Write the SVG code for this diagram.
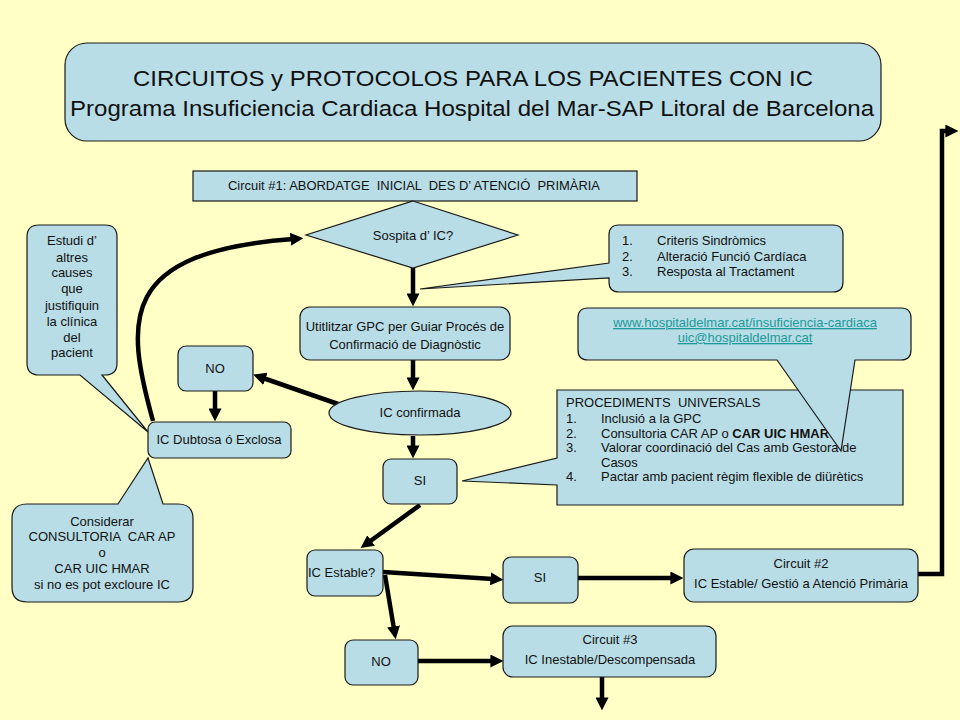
<svg xmlns="http://www.w3.org/2000/svg" width="960" height="720" viewBox="0 0 960 720">
<defs>
<style>
.bx{fill:#B8DDE6;stroke:#1a1a1a;stroke-width:1.2}
.t{font-family:"Liberation Sans",Arial,sans-serif;font-size:13px;fill:#111}
.c{text-anchor:middle}
.ar{fill:none;stroke:#000;stroke-width:4.5;marker-end:url(#ah)}
.lk{fill:#1B9A9A;text-decoration:underline}
</style>
<marker id="ah" viewBox="0 0 10 10" markerWidth="13" markerHeight="13" refX="2" refY="5" orient="auto" markerUnits="userSpaceOnUse">
<path d="M0,0 L10,5 L0,10 z" fill="#000"/>
</marker>
</defs>
<rect x="0" y="0" width="960" height="720" fill="#FFFFC6"/>

<g id="title">
<rect class="bx" x="65" y="43" width="816" height="98" rx="22"/>
<text class="t c" x="473" y="86" style="font-size:22px" textLength="680" lengthAdjust="spacingAndGlyphs">CIRCUITOS y PROTOCOLOS PARA LOS PACIENTES CON IC</text>
<text class="t c" x="472" y="116" style="font-size:22px" textLength="804" lengthAdjust="spacingAndGlyphs">Programa Insuficiencia Cardiaca Hospital del Mar-SAP Litoral de Barcelona</text>
</g>

<g id="circuit1">
<rect class="bx" x="193" y="171" width="444" height="30"/>
<text class="t c" x="414" y="190" xml:space="preserve" textLength="372" lengthAdjust="spacingAndGlyphs">Circuit #1: ABORDATGE  INICIAL  DES D’ ATENCIÓ  PRIMÀRIA</text>
</g>

<g id="connectors">
<line class="ar" x1="413" y1="268" x2="413" y2="296"/>
<line class="ar" x1="413" y1="360" x2="413" y2="380"/>
<line class="ar" x1="413" y1="436" x2="413" y2="448"/>
<line class="ar" x1="338" y1="404" x2="263" y2="378"/>
<line class="ar" x1="215" y1="391" x2="215" y2="411"/>
<path class="ar" d="M153,421 C125,320 118,252 293,239"/>
<line class="ar" x1="420" y1="505" x2="369" y2="542"/>
<line class="ar" x1="383" y1="572" x2="493" y2="579"/>
<line class="ar" x1="385" y1="575" x2="394" y2="629"/>
<line class="ar" x1="578" y1="578" x2="673" y2="578"/>
<line class="ar" x1="418" y1="661" x2="493" y2="661"/>
<line class="ar" x1="602" y1="677" x2="602" y2="700"/>
<polyline class="ar" points="918,574 942,574 942,131 948,131"/>
</g>

<g id="sospita">
<polygon class="bx" points="413,201 518,235 413,268 306,235"/>
<text class="t c" x="413" y="240">Sospita d’ IC?</text>
</g>

<g id="utilitzar">
<rect class="bx" x="300" y="307" width="210" height="53" rx="10"/>
<text class="t c" x="405" y="331">Utitlitzar GPC per Guiar Procés de</text>
<text class="t c" x="405" y="349">Confirmació de Diagnòstic</text>
</g>

<g id="confirmada">
<ellipse class="bx" cx="420" cy="413" rx="91" ry="22"/>
<text class="t c" x="420" y="417">IC confirmada</text>
</g>

<g id="si1">
<rect class="bx" x="383" y="459" width="74" height="45" rx="8"/>
<text class="t c" x="420" y="485">SI</text>
</g>

<g id="no1">
<rect class="bx" x="178" y="346" width="75" height="45" rx="8"/>
<text class="t c" x="215" y="373">NO</text>
</g>

<g id="estudi">
<path class="bx" d="M39,225 H105 Q117,225 117,237 V363 Q117,375 105,375 H102 L148,432 L80,375 H39 Q27,375 27,363 V237 Q27,225 39,225 Z"/>
<text class="t c" x="72" y="245">Estudi d’</text>
<text class="t c" x="72" y="262">altres</text>
<text class="t c" x="72" y="277">causes</text>
<text class="t c" x="72" y="293">que</text>
<text class="t c" x="72" y="310">justifiquin</text>
<text class="t c" x="72" y="326">la clínica</text>
<text class="t c" x="72" y="342">del</text>
<text class="t c" x="72" y="357">pacient</text>
</g>

<g id="considerar">
<path class="bx" d="M27,504 H118 L148,458 L163,504 H178 Q193,504 193,519 V587 Q193,602 178,602 H27 Q12,602 12,587 V519 Q12,504 27,504 Z"/>
<text class="t c" x="102" y="526">Considerar</text>
<text class="t c" x="102" y="541" xml:space="preserve">CONSULTORIA  CAR AP</text>
<text class="t c" x="102" y="557">o</text>
<text class="t c" x="102" y="573">CAR UIC HMAR</text>
<text class="t c" x="102" y="589">si no es pot excloure IC</text>
</g>

<g id="dubtosa">
<rect class="bx" x="148" y="422" width="143" height="36" rx="7"/>
<text class="t c" x="219" y="444">IC Dubtosa ó Exclosa</text>
</g>

<g id="criteris">
<path class="bx" d="M619,225 H833 Q843,225 843,235 V282 Q843,292 833,292 H619 Q609,292 609,282 V278 L420,289 L609,263 V235 Q609,225 619,225 Z"/>
<text class="t" x="622" y="245">1.</text><text class="t" x="657" y="245">Criteris Sindròmics</text>
<text class="t" x="622" y="261">2.</text><text class="t" x="657" y="261">Alteració Funció Cardíaca</text>
<text class="t" x="622" y="276">3.</text><text class="t" x="657" y="276">Resposta al Tractament</text>
</g>

<g id="procediments">
<path class="bx" d="M557,390 H903 V505 H557 V485 L462,481 L557,458 Z"/>
<text class="t" x="566" y="407" xml:space="preserve">PROCEDIMENTS  UNIVERSALS</text>
<text class="t" x="566" y="423">1.</text><text class="t" x="601" y="423">Inclusió a la GPC</text>
<text class="t" x="566" y="438">2.</text><text class="t" x="601" y="438">Consultoria CAR AP o <tspan font-weight="bold">CAR UIC HMAR</tspan></text>
<text class="t" x="566" y="452">3.</text><text class="t" x="601" y="452">Valorar coordinació del Cas amb Gestora de</text>
<text class="t" x="601" y="467">Casos</text>
<text class="t" x="566" y="481">4.</text><text class="t" x="601" y="481">Pactar amb pacient règim flexible de diürètics</text>
</g>

<g id="web">
<path class="bx" d="M588,308 H901 Q911,308 911,318 V350 Q911,360 901,360 H855 L841,451 L777,360 H588 Q578,360 578,350 V318 Q578,308 588,308 Z"/>
<text class="t c lk" x="745" y="327">www.hospitaldelmar.cat/insuficiencia-cardiaca</text>
<text class="t c lk" x="745" y="342">uic@hospitaldelmar.cat</text>
</g>

<g id="estable">
<rect class="bx" x="307" y="550" width="76" height="46" rx="8"/>
<text class="t" x="308" y="577">IC Estable?</text>
</g>

<g id="si2">
<rect class="bx" x="503" y="557" width="75" height="46" rx="8"/>
<text class="t c" x="540" y="582">SI</text>
</g>

<g id="circuit2">
<rect class="bx" x="684" y="549" width="234" height="53" rx="10"/>
<text class="t c" x="801" y="568">Circuit #2</text>
<text class="t c" x="801" y="588">IC Estable/ Gestió a Atenció Primària</text>
</g>

<g id="no2">
<rect class="bx" x="345" y="640" width="73" height="45" rx="8"/>
<text class="t c" x="381" y="666">NO</text>
</g>

<g id="circuit3">
<rect class="bx" x="503" y="626" width="213" height="51" rx="10"/>
<text class="t c" x="610" y="644">Circuit #3</text>
<text class="t c" x="610" y="664">IC Inestable/Descompensada</text>
</g>
</svg>
